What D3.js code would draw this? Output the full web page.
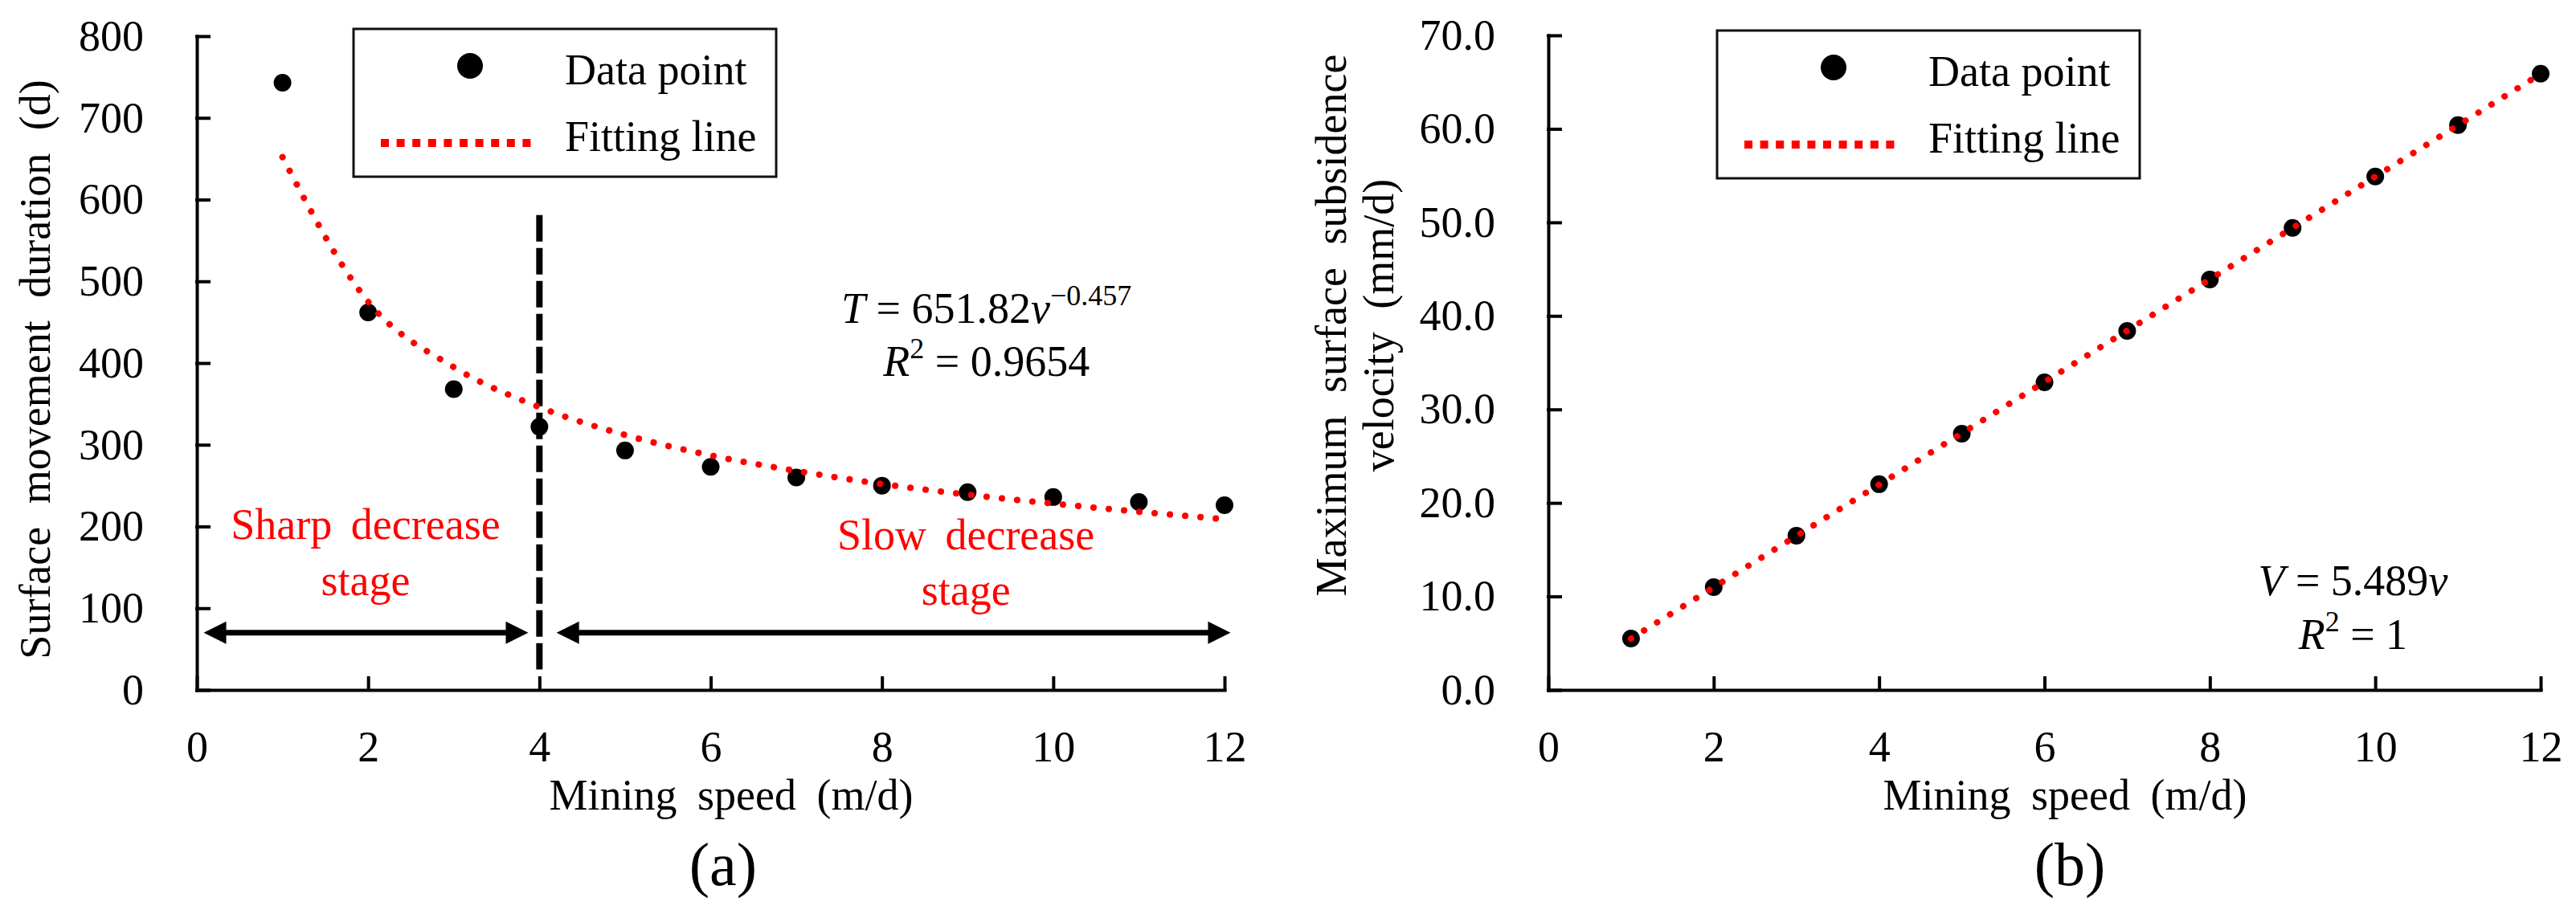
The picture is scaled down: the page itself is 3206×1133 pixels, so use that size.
<!DOCTYPE html>
<html>
<head>
<meta charset="utf-8">
<script src="https://cdn.jsdelivr.net/npm/d3@7"></script>
<style>
    body { margin: 0; background: #fff; }
    svg text { font-family: "Liberation Serif", "Times New Roman", serif; }
</style>
</head>
<body>
<div id="chart"></div>
<script>
"use strict";

// values
const speed = [1, 2, 3, 4, 5, 6, 7, 8, 9, 10, 11, 12];
const duration = [743, 462, 368, 322, 293, 273, 260, 250, 242, 236, 230, 226];
const durationFit = [652, 475, 395, 346, 312, 287, 268, 252, 239, 228, 218, 209];
const velocity = [5.5, 11.0, 16.5, 22.0, 27.4, 32.9, 38.4, 43.9, 49.4, 54.9, 60.4, 65.9];
const velocityFitSpeed = [1, 12];
const velocityFit = [5.49, 65.87];

const speedTicks = [0, 2, 4, 6, 8, 10, 12];
const durationTicks = [0, 100, 200, 300, 400, 500, 600, 700, 800];
const velocityTicks = [0, 10, 20, 30, 40, 50, 60, 70];

const legendLabels = ["Data point", "Fitting line"];
const stageLabels = [["Sharp decrease", "stage"], ["Slow decrease", "stage"]];
const stageSpans = [[0.08, 3.87], [4.2, 12.07]];
const stageBoundary = 4;

const FONT = 54;
const RED = "#ff0000";

class FitPanel
{
    /**
     * Constructor of one panel of the figure
     *
     * @param {Object} svg d3 selection of the root svg
     * @param {Object} cfg frame, domain and tick settings of the panel
     */
    constructor(svg, cfg)
    {
        this._cfg = cfg;
        this._g = svg.append("g");
        this._x = d3.scaleLinear()
                    .domain([0, 12])
                    .range([cfg.left, cfg.right]);
        this._y = d3.scaleLinear()
                    .domain(cfg.yDomain)
                    .range([cfg.bottom, cfg.top]);
    }

    get X()
    {
        return this._x;
    }

    get Y()
    {
        return this._y;
    }

    get G()
    {
        return this._g;
    }

    drawAxes()
    {
        let cfg = this._cfg;
        let xAxis = d3.axisBottom(this._x)
                      .tickValues(speedTicks)
                      .tickSizeInner(-15)
                      .tickSizeOuter(0)
                      .tickPadding(51)
                      .tickFormat(d3.format("d"));
        let yAxis = d3.axisLeft(this._y)
                      .tickValues(cfg.yTicks)
                      .tickSizeInner(-15)
                      .tickSizeOuter(0)
                      .tickPadding(66)
                      .tickFormat(cfg.yFormat);

        let gx = this._g.append("g")
                    .attr("transform", "translate(0," + cfg.bottom + ")")
                    .call(xAxis);
        let gy = this._g.append("g")
                    .attr("transform", "translate(" + cfg.left + ",0)")
                    .call(yAxis);

        [gx, gy].forEach((a)=>
        {
            a.attr("font-size", FONT).attr("font-family", null);
            a.selectAll("path, line")
             .attr("stroke", "#000")
             .attr("stroke-width", 4)
             .attr("stroke-linecap", "square");
            a.selectAll("text").attr("fill", "#000");
        });
    }

    /**
     * Black filled markers of measured values
     */
    drawPoints(xs, ys)
    {
        this._g.append("g")
            .selectAll("circle")
            .data(xs.map((d, i)=>[d, ys[i]]))
            .join("circle")
            .attr("cx", (d)=>this._x(d[0]))
            .attr("cy", (d)=>this._y(d[1]))
            .attr("r", 11)
            .attr("fill", "#000");
    }

    /**
     * Red round dotted fitting line
     */
    drawFit(xs, ys, curve)
    {
        let line = d3.line()
                     .x((d)=>this._x(d[0]))
                     .y((d)=>this._y(d[1]))
                     .curve(curve);
        this._g.append("path")
            .datum(xs.map((d, i)=>[d, ys[i]]))
            .attr("d", line)
            .attr("fill", "none")
            .attr("stroke", RED)
            .attr("stroke-width", 8)
            .attr("stroke-linecap", "round")
            .attr("stroke-dasharray", "0.1 19");
    }

    drawLegend(lx, ly)
    {
        let g = this._g.append("g").attr("transform", "translate(" + lx + "," + ly + ")");
        g.append("rect")
         .attr("width", 526)
         .attr("height", 184)
         .attr("fill", "#fff")
         .attr("stroke", "#111")
         .attr("stroke-width", 3);
        g.append("circle")
         .attr("cx", 145)
         .attr("cy", 46)
         .attr("r", 16)
         .attr("fill", "#000");
        g.append("line")
         .attr("x1", 34)
         .attr("x2", 221)
         .attr("y1", 142)
         .attr("y2", 142)
         .attr("stroke", RED)
         .attr("stroke-width", 10)
         .attr("stroke-dasharray", "10 9.6");
        g.selectAll("text")
         .data(legendLabels)
         .join("text")
         .attr("x", 263)
         .attr("y", (d, i)=>i === 0 ? 69 : 152)
         .attr("font-size", FONT)
         .text((d)=>d);
    }

    drawTitles(xTitle, yTitles, tag, cfgT)
    {
        let g = this._g;
        g.append("text")
         .attr("x", cfgT.xTitleX)
         .attr("y", 1008)
         .attr("text-anchor", "middle")
         .attr("font-size", FONT)
         .attr("word-spacing", 12)
         .text(xTitle);
        g.append("text")
         .attr("x", cfgT.tagX)
         .attr("y", 1102)
         .attr("text-anchor", "middle")
         .attr("font-size", 76)
         .text(tag);
        yTitles.forEach((t, i)=>
        {
            g.append("text")
             .attr("transform", "translate(" + cfgT.yTitleX[i] + "," + cfgT.yTitleY + ") rotate(-90)")
             .attr("text-anchor", "middle")
             .attr("font-size", FONT)
             .attr("word-spacing", 15)
             .text(t);
        });
    }

    /**
     * Two line equation block, first line given as tspan specs
     */
    drawEquation(cx, y1, y2, parts1, parts2)
    {
        [[y1, parts1], [y2, parts2]].forEach((row)=>
        {
            let t = this._g.append("text")
                        .attr("x", cx)
                        .attr("y", row[0])
                        .attr("text-anchor", "middle")
                        .attr("font-size", FONT);
            row[1].forEach((p)=>
            {
                let s = t.append("tspan").text(p.t);
                if (p.i)
                    s.attr("font-style", "italic");
                if (p.sup)
                    s.attr("font-size", 36).attr("dy", -22);
                if (p.down)
                    s.attr("dy", 22);
            });
        });
    }
}

let svg = d3.select("#chart")
            .append("svg")
            .attr("width", 3206)
            .attr("height", 1133)
            .style("display", "block");
svg.append("rect").attr("width", 3206).attr("height", 1133).attr("fill", "#fff");

// ---- panel (a)
let pa = new FitPanel(svg, {left: 245, right: 1524, top: 45, bottom: 859,
                            yDomain: [0, 800], yTicks: durationTicks, yFormat: d3.format("d")});
pa.drawAxes();

// stage boundary
pa.G.append("line")
    .attr("x1", pa.X(stageBoundary))
    .attr("x2", pa.X(stageBoundary))
    .attr("y1", pa.Y(581))
    .attr("y2", pa.Y(25))
    .attr("stroke", "#000")
    .attr("stroke-width", 8)
    .attr("stroke-dasharray", "33 8");

// double arrows for both stages
stageSpans.forEach((s)=>
{
    let x1 = pa.X(s[0]), x2 = pa.X(s[1]), y = pa.Y(70);
    let head = 28, half = 14;
    pa.G.append("line")
        .attr("x1", x1 + head - 2)
        .attr("x2", x2 - head + 2)
        .attr("y1", y)
        .attr("y2", y)
        .attr("stroke", "#000")
        .attr("stroke-width", 7);
    pa.G.append("path")
        .attr("d", "M" + x1 + "," + y + "L" + (x1 + head) + "," + (y - half) + "L" + (x1 + head) + "," + (y + half) + "Z"
                 + "M" + x2 + "," + y + "L" + (x2 - head) + "," + (y - half) + "L" + (x2 - head) + "," + (y + half) + "Z")
        .attr("fill", "#000");
});

// stage names
[[1.97, 185, 116], [8.98, 172, 104]].forEach((p, i)=>
{
    stageLabels[i].forEach((t, j)=>
    {
        pa.G.append("text")
            .attr("x", pa.X(p[0]))
            .attr("y", pa.Y(p[j + 1]))
            .attr("text-anchor", "middle")
            .attr("font-size", FONT)
            .attr("word-spacing", 10)
            .attr("fill", RED)
            .text(t);
    });
});

pa.drawPoints(speed, duration);
pa.drawFit(speed, durationFit, d3.curveMonotoneX);
pa.drawLegend(440, 36);
pa.drawEquation(pa.X(9.22), pa.Y(449), pa.Y(384),
                [{t: "T", i: true}, {t: " = 651.82"}, {t: "v", i: true}, {t: "\u22120.457", sup: true}],
                [{t: "R", i: true}, {t: "2", sup: true}, {t: " = 0.9654", down: true}]);
pa.drawTitles("Mining speed (m/d)", ["Surface movement duration (d)"], "(a)",
              {xTitleX: 910, tagX: 900, yTitleX: [62], yTitleY: 460});

// ---- panel (b)
let pb = new FitPanel(svg, {left: 1927, right: 3162, top: 44, bottom: 859,
                            yDomain: [0, 70], yTicks: velocityTicks, yFormat: d3.format(".1f")});
pb.drawAxes();
pb.drawPoints(speed, velocity);
pb.drawFit(velocityFitSpeed, velocityFit, d3.curveLinear);
pb.drawLegend(2137, 38);
pb.drawEquation(pb.X(9.73), pb.Y(10.1), pb.Y(4.4),
                [{t: "V", i: true}, {t: " = 5.489"}, {t: "v", i: true}],
                [{t: "R", i: true}, {t: "2", sup: true}, {t: " = 1", down: true}]);
pb.drawTitles("Mining speed (m/d)", ["Maximum surface subsidence", "velocity (mm/d)"], "(b)",
              {xTitleX: 2570, tagX: 2576, yTitleX: [1675, 1734], yTitleY: 405});
</script>
</body>
</html>
